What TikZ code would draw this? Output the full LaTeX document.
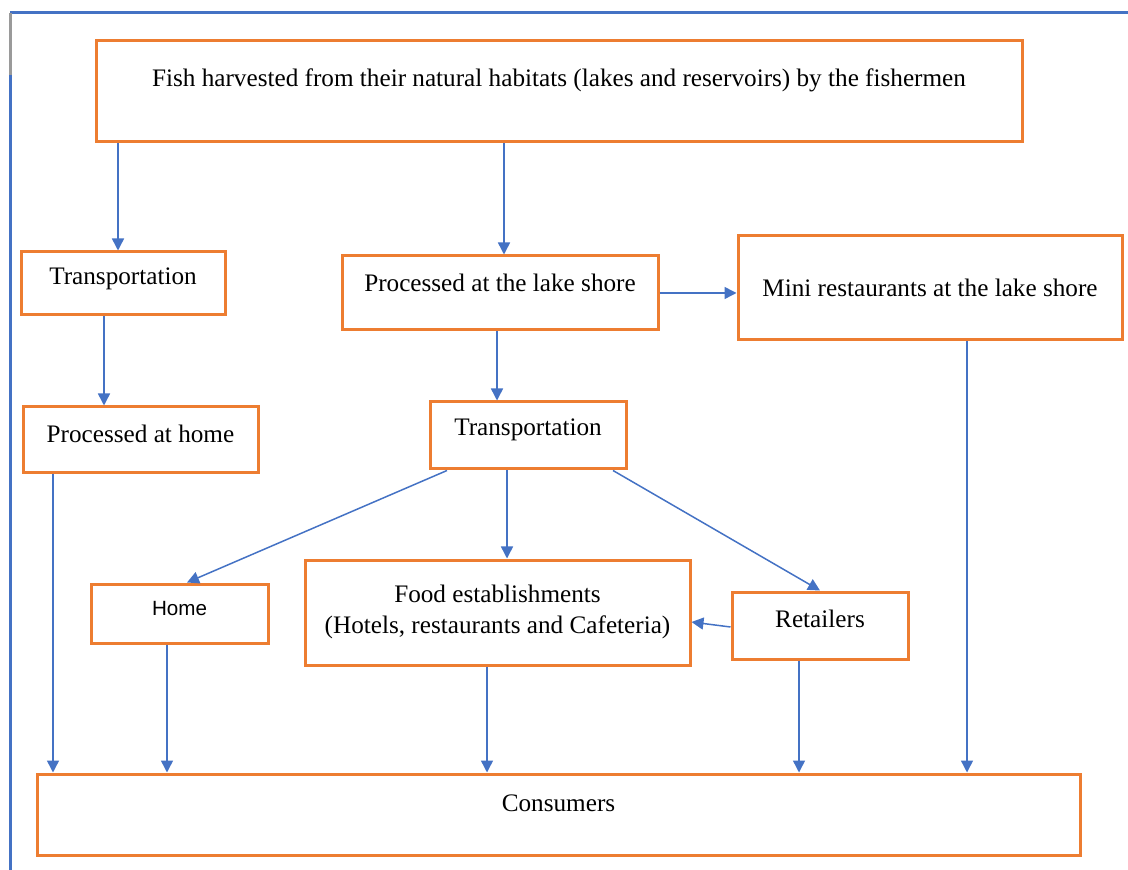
\documentclass[tikz,border=0pt]{standalone}
\usepackage{fontspec}
\setmainfont{Liberation Serif}
\newfontfamily\homefont{Liberation Sans}
\usetikzlibrary{arrows.meta}
\definecolor{boxorange}{HTML}{ED7D31}
\definecolor{arrowblue}{HTML}{4472C4}
\definecolor{framegrey}{HTML}{9A9A9A}
\newcommand{\boxfont}{\fontsize{12.6}{15.5}\selectfont}
\newcommand{\smallsans}{\homefont\fontsize{10.3}{12}\selectfont}
\tikzset{
  flowbox/.style={draw=boxorange,line width=1.5pt,inner sep=0pt},
  boxtext/.style={inner sep=0pt,align=center,font=\boxfont},
  flow/.style={draw=arrowblue,line width=0.75pt,-{Triangle[length=6pt,width=6pt]}},
}
% box: name, x1, y1, x2, y2, text y, text
\newcommand{\flowbox}[7]{%
  \node[flowbox,minimum width={(#4-#2)*0.5pt},minimum height={(#5-#3)*0.5pt}]
    (#1) at ({(#2+#4)/2},{(#3+#5)/2}) {};
  \node[boxtext] (#1-text) at ({(#2+#4)/2},#6) {#7};
}

\begin{document}
\begin{tikzpicture}[x=0.5pt,y=-0.5pt]
  \useasboundingbox (0,0) rectangle (1128,870);

  % page frame
  \draw[arrowblue,line width=1.5pt] (10,13) -- (1128,13);
  \draw[framegrey,line width=1.5pt] (10,13) -- (10,75);
  \draw[arrowblue,line width=1.5pt] (10,75) -- (10,870);

  \flowbox{fish}{96}{41}{1022}{142}{80}{Fish harvested from their natural habitats (lakes and reservoirs) by the fishermen}
  \flowbox{tl}{21}{252}{225}{315}{279}{Transportation}
  \flowbox{pl}{342}{256}{658}{330}{283}{Processed at the lake shore}
  \flowbox{mini}{738}{236}{1122}{340}{288}{Mini restaurants at the lake shore}
  \flowbox{ph}{23}{407}{258}{473}{434}{Processed at home}
  \flowbox{tm}{430}{402}{626}{469}{430}{Transportation}
  \flowbox{home}{91}{584}{268}{643}{609}{\smallsans Home}
  \flowbox{food}{305}{560}{690}{665}{611.5}{Food establishments\\(Hotels, restaurants and Cafeteria)}
  \flowbox{ret}{732}{592}{908}{659}{619}{Retailers}
  \flowbox{cons}{37}{774}{1080}{855}{803}{Consumers}

  % vertical connectors
  \foreach \xx/\from/\to in {118/fish/tl, 504/fish/pl, 104/tl/ph, 497/pl/tm,
      507/tm/food, 967/mini/cons, 53/ph/cons, 167/home/cons, 487/food/cons, 799/ret/cons}{
    \coordinate (col) at (\xx,0);
    \draw[flow] (col |- \from.south) -- (col |- \to.north);
  }

  \coordinate (row) at (0,293);
  \draw[flow] (row -| pl.east) -- (row -| mini.west);
  \draw[flow] ([xshift=-40.5pt]tm.south) -- ([xshift=3.75pt]home.north);
  \draw[flow] ([xshift=42.5pt]tm.south) -- (ret.north);
  \draw[flow] ([yshift=-0.75pt]ret.west) -- ([yshift=-4.75pt]food.east);
\end{tikzpicture}
\end{document}
